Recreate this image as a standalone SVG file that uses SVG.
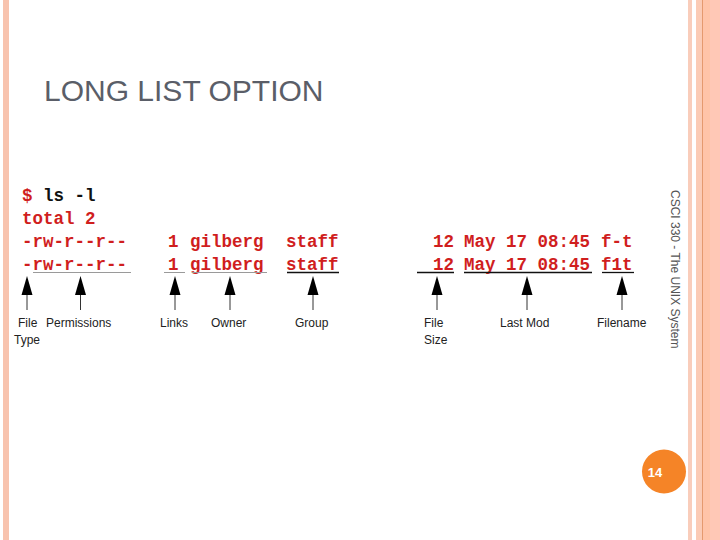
<svg xmlns="http://www.w3.org/2000/svg" width="720" height="540" viewBox="0 0 720 540">
<style>
.code{font-family:"Liberation Mono","Courier New",monospace;font-weight:bold;font-size:17.5px;fill:#D01E1E;white-space:pre}
.lbl{font-family:"Liberation Sans",Arial,sans-serif;font-size:12px;fill:#222}
.ul-g{stroke:#9a9a9a;stroke-width:1}
.ul-b{stroke:#111;stroke-width:1.3}
.stem{stroke:#333;stroke-width:1}
.head{fill:#000}
</style>
<defs>
<g id="arrow">
<polygon class="head" points="0,276 -5.5,295 5.5,295"/>
<line class="stem" x1="0" y1="295" x2="0" y2="310"/>
</g>
</defs>
<rect width="720" height="540" fill="#fff"/>
<g id="frame">
<rect x="3" y="0" width="6" height="540" fill="#F8C3AE"/>
<rect x="688" y="0" width="4" height="540" fill="#F9CDBB"/>
<rect x="696" y="0" width="6" height="540" fill="#FBCBB5"/>
<rect x="702" y="0" width="1" height="540" fill="#E59A6E"/>
<rect x="703" y="0" width="7" height="540" fill="#FFC4A8"/>
<rect x="710" y="0" width="10" height="540" fill="#FFC8B6"/>
</g>
<g id="title"><text x="44" y="101" font-family="Liberation Sans, Arial, sans-serif" font-size="30" fill="#5A5E68">LONG LIST OPTION</text></g>
<g id="listing">
<text class="code" x="22" y="201">$<tspan fill="#111"> ls -l</tspan></text>
<text class="code" x="22" y="224">total 2</text>
<text class="code" x="22" y="247">-rw-r--r--</text>
<text class="code" x="168" y="247">1</text>
<text class="code" x="190" y="247">gilberg</text>
<text class="code" x="286" y="247">staff</text>
<text class="code" x="433" y="247">12</text>
<text class="code" x="464" y="247">May 17 08:45</text>
<text class="code" x="601" y="247">f-t</text>
<text class="code" x="22" y="270">-rw-r--r--</text>
<text class="code" x="168" y="270">1</text>
<text class="code" x="190" y="270">gilberg</text>
<text class="code" x="286" y="270">staff</text>
<text class="code" x="433" y="270">12</text>
<text class="code" x="464" y="270">May 17 08:45</text>
<text class="code" x="601" y="270">f1t</text>
</g>
<g id="connectors">
<line class="ul-g" x1="33" y1="272.5" x2="131" y2="272.5"/>
<line class="ul-g" x1="164" y1="272.5" x2="185" y2="272.5"/>
<line class="ul-g" x1="192" y1="272.5" x2="267" y2="272.5"/>
<line class="ul-b" x1="287" y1="272.5" x2="339" y2="272.5"/>
<line class="ul-b" x1="417" y1="272.5" x2="454" y2="272.5"/>
<line class="ul-b" x1="464" y1="272.5" x2="592" y2="272.5"/>
<line class="ul-b" x1="602" y1="272.5" x2="634" y2="272.5"/>
<use href="#arrow" x="27"/>
<use href="#arrow" x="80.5"/>
<use href="#arrow" x="175"/>
<use href="#arrow" x="230"/>
<use href="#arrow" x="313"/>
<use href="#arrow" x="437"/>
<use href="#arrow" x="527"/>
<use href="#arrow" x="622"/>
</g>
<g id="file-type"><text class="lbl" x="18" y="327">File</text><text class="lbl" x="14" y="344">Type</text></g>
<g id="permissions"><text class="lbl" x="46" y="327">Permissions</text></g>
<g id="links"><text class="lbl" x="160" y="327">Links</text></g>
<g id="owner"><text class="lbl" x="211" y="327">Owner</text></g>
<g id="group"><text class="lbl" x="295" y="327">Group</text></g>
<g id="file-size"><text class="lbl" x="424" y="327">File</text><text class="lbl" x="424" y="344">Size</text></g>
<g id="last-mod"><text class="lbl" x="500" y="327">Last Mod</text></g>
<g id="filename"><text class="lbl" x="597" y="327">Filename</text></g>
<g id="footer"><text transform="translate(671,190) rotate(90)" font-family="Liberation Sans, Arial, sans-serif" font-size="12" fill="#555">CSCI 330 - The UNIX System</text></g>
<g id="page-number">
<circle cx="664" cy="471.5" r="22" fill="#F58427"/>
<text x="655" y="476.5" text-anchor="middle" font-family="Liberation Sans, Arial, sans-serif" font-size="13" font-weight="bold" fill="#fff">14</text>
</g>
</svg>
